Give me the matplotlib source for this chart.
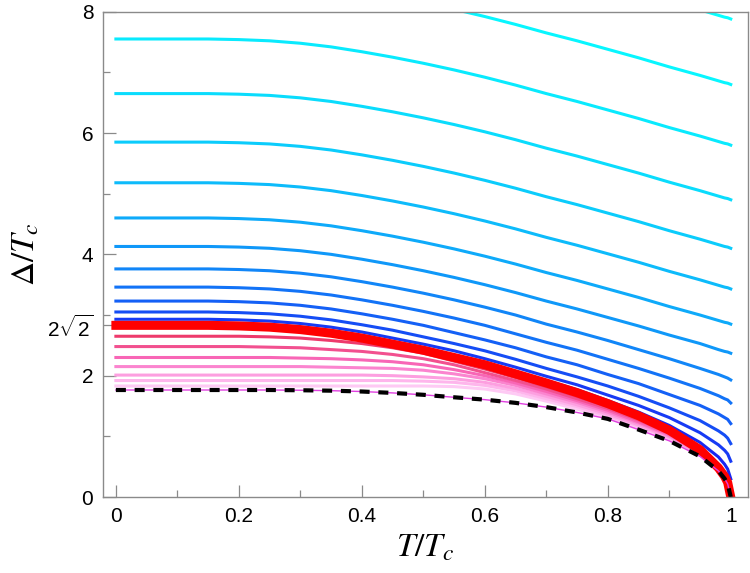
import matplotlib.pyplot as plt
import numpy as np
from matplotlib.colors import hsv_to_rgb

plt.rcParams['font.family'] = ['Liberation Sans', 'DejaVu Sans']
plt.rcParams['mathtext.fontset'] = 'custom'
plt.rcParams['mathtext.rm'] = 'Liberation Sans'
plt.rcParams['mathtext.it'] = 'Liberation Sans:italic'

# temperature grid (T/Tc) shared by all curves
T = [0, 0.05, 0.1, 0.15, 0.2, 0.25, 0.3, 0.35, 0.4, 0.45, 0.5, 0.55,
     0.6, 0.65, 0.7, 0.75, 0.8, 0.85, 0.9, 0.95, 0.98, 0.99, 0.995, 1.0]

# curves above 2*sqrt(2), top to bottom (gap stays finite at Tc)
blue_curves = [
    [9.63, 9.63, 9.63, 9.63, 9.62, 9.60, 9.56, 9.50, 9.42, 9.33, 9.23, 9.12, 9.00, 8.87, 8.73, 8.60, 8.46, 8.32, 8.17, 8.03, 7.94, 7.91, 7.90, 7.88],
    [8.55, 8.55, 8.55, 8.55, 8.54, 8.52, 8.48, 8.42, 8.34, 8.25, 8.15, 8.04, 7.92, 7.79, 7.65, 7.52, 7.38, 7.24, 7.09, 6.95, 6.86, 6.83, 6.82, 6.80],
    [7.55, 7.55, 7.55, 7.55, 7.54, 7.52, 7.48, 7.42, 7.34, 7.25, 7.15, 7.04, 6.92, 6.79, 6.65, 6.52, 6.38, 6.24, 6.09, 5.95, 5.86, 5.83, 5.82, 5.80],
    [6.65, 6.65, 6.65, 6.65, 6.64, 6.62, 6.58, 6.52, 6.44, 6.35, 6.25, 6.14, 6.02, 5.89, 5.75, 5.62, 5.48, 5.34, 5.19, 5.05, 4.96, 4.93, 4.92, 4.90],
    [5.85, 5.85, 5.85, 5.85, 5.84, 5.82, 5.78, 5.72, 5.64, 5.55, 5.45, 5.34, 5.22, 5.09, 4.95, 4.82, 4.68, 4.54, 4.39, 4.25, 4.16, 4.13, 4.12, 4.10],
    [5.18, 5.18, 5.18, 5.18, 5.17, 5.15, 5.11, 5.05, 4.97, 4.88, 4.78, 4.67, 4.55, 4.42, 4.28, 4.15, 4.01, 3.87, 3.72, 3.58, 3.49, 3.46, 3.45, 3.43],
    [4.60, 4.60, 4.60, 4.60, 4.59, 4.57, 4.53, 4.47, 4.39, 4.30, 4.20, 4.09, 3.97, 3.84, 3.70, 3.57, 3.43, 3.29, 3.14, 3.00, 2.91, 2.88, 2.87, 2.85],
    [4.13, 4.13, 4.13, 4.13, 4.12, 4.10, 4.06, 4.00, 3.92, 3.83, 3.73, 3.62, 3.50, 3.37, 3.23, 3.10, 2.96, 2.82, 2.67, 2.53, 2.43, 2.40, 2.39, 2.37],
    [3.76, 3.76, 3.76, 3.76, 3.75, 3.73, 3.69, 3.63, 3.55, 3.46, 3.36, 3.25, 3.13, 3.00, 2.85, 2.72, 2.58, 2.43, 2.28, 2.12, 2.02, 1.98, 1.96, 1.93],
    [3.46, 3.46, 3.46, 3.46, 3.45, 3.43, 3.39, 3.33, 3.25, 3.16, 3.06, 2.95, 2.83, 2.69, 2.55, 2.42, 2.27, 2.12, 1.96, 1.79, 1.67, 1.62, 1.60, 1.55],
    [3.23, 3.23, 3.23, 3.23, 3.22, 3.20, 3.16, 3.10, 3.02, 2.93, 2.83, 2.71, 2.59, 2.46, 2.31, 2.18, 2.02, 1.87, 1.69, 1.51, 1.37, 1.31, 1.28, 1.21],
    [3.05, 3.05, 3.05, 3.05, 3.04, 3.02, 2.98, 2.92, 2.84, 2.75, 2.64, 2.53, 2.41, 2.27, 2.12, 1.98, 1.83, 1.66, 1.47, 1.26, 1.09, 1.02, 0.97, 0.88],
    [2.93, 2.93, 2.93, 2.93, 2.92, 2.90, 2.86, 2.80, 2.72, 2.62, 2.52, 2.41, 2.28, 2.14, 1.99, 1.85, 1.68, 1.51, 1.31, 1.06, 0.86, 0.77, 0.71, 0.59],
    [2.87, 2.87, 2.87, 2.87, 2.86, 2.84, 2.80, 2.74, 2.66, 2.56, 2.46, 2.34, 2.22, 2.07, 1.92, 1.77, 1.59, 1.40, 1.18, 0.90, 0.66, 0.54, 0.46, 0.30],
]

# critical curve, Delta(0)/Tc = 2*sqrt(2)
red_curve = [2.83, 2.83, 2.83, 2.83, 2.82, 2.80, 2.76, 2.70, 2.62, 2.52, 2.42, 2.30,
             2.18, 2.03, 1.88, 1.72, 1.54, 1.34, 1.10, 0.78, 0.48, 0.34, 0.24, 0.0]

# curves below 2*sqrt(2), top to bottom
pink_curves = [
    [2.65, 2.65, 2.65, 2.65, 2.65, 2.64, 2.62, 2.58, 2.53, 2.46, 2.37, 2.24, 2.11, 1.97, 1.82, 1.66, 1.49, 1.30, 1.07, 0.76, 0.47, 0.33, 0.235, 0.0],
    [2.48, 2.48, 2.48, 2.48, 2.48, 2.47, 2.46, 2.43, 2.40, 2.35, 2.28, 2.18, 2.05, 1.92, 1.78, 1.62, 1.46, 1.27, 1.05, 0.75, 0.47, 0.33, 0.23, 0.0],
    [2.30, 2.30, 2.30, 2.30, 2.30, 2.30, 2.29, 2.28, 2.26, 2.23, 2.18, 2.10, 2.00, 1.88, 1.74, 1.59, 1.43, 1.24, 1.03, 0.74, 0.46, 0.33, 0.23, 0.0],
    [2.15, 2.15, 2.15, 2.15, 2.15, 2.15, 2.15, 2.14, 2.13, 2.12, 2.09, 2.03, 1.95, 1.84, 1.70, 1.56, 1.40, 1.22, 1.01, 0.72, 0.46, 0.32, 0.225, 0.0],
    [2.01, 2.01, 2.01, 2.01, 2.01, 2.01, 2.01, 2.01, 2.01, 2.00, 1.98, 1.95, 1.89, 1.79, 1.66, 1.52, 1.37, 1.19, 0.99, 0.71, 0.45, 0.32, 0.225, 0.0],
    [1.92, 1.92, 1.92, 1.92, 1.92, 1.92, 1.92, 1.92, 1.92, 1.92, 1.91, 1.89, 1.84, 1.75, 1.62, 1.49, 1.34, 1.17, 0.97, 0.70, 0.45, 0.31, 0.22, 0.0],
    [1.83, 1.83, 1.83, 1.83, 1.83, 1.83, 1.83, 1.83, 1.83, 1.83, 1.83, 1.82, 1.78, 1.70, 1.58, 1.45, 1.31, 1.14, 0.95, 0.69, 0.44, 0.31, 0.22, 0.0],
]

# BCS gap, Delta(0)/Tc = 1.764
bcs_curve = [1.764, 1.764, 1.764, 1.764, 1.764, 1.764, 1.760, 1.753, 1.739, 1.716, 1.685, 1.644,
             1.605, 1.552, 1.482, 1.394, 1.288, 1.111, 0.926, 0.670, 0.429, 0.303, 0.215, 0.0]

pink_colors = ['#ee3a6c', '#f2508f', '#f866b6', '#fb84cf', '#fd9fe0', '#feb6ec', '#fecaf4']

fig = plt.figure(figsize=(7.5, 5.73), dpi=100)
ax = fig.add_axes([0.1373, 0.1326, 0.86, 0.847])

nb = len(blue_curves)
for i, d in enumerate(blue_curves):
    f = (i / (nb - 1)) ** 1.3
    c = hsv_to_rgb((0.5 + 0.155 * f, 0.97 - 0.07 * f, 1.0 - 0.05 * f))
    ax.plot(T, d, color=c, lw=2.2, solid_joinstyle='round')

for d, c in zip(pink_curves[::-1], pink_colors[::-1]):
    ax.plot(T, d, color=c, lw=2.2, solid_joinstyle='round')

ax.plot(T, red_curve, color='#ff0000', lw=6.5, solid_joinstyle='round')
ax.plot(T, bcs_curve, color='#e040e0', lw=1.0)
ax.plot(T, bcs_curve, color='black', lw=3, ls=(0, (2.4, 2.1)))

ax.set_xlim(-0.021, 1.028)
ax.set_ylim(0, 8)

ax.set_xticks([0, 0.2, 0.4, 0.6, 0.8, 1.0])
ax.set_xticklabels(['0', '0.2', '0.4', '0.6', '0.8', '1'])
ax.set_xticks([0.1, 0.3, 0.5, 0.7, 0.9], minor=True)
ax.set_yticks([0, 2, 2 * np.sqrt(2), 4, 6, 8])
ax.set_yticklabels(['0', '2', r'$2\sqrt{2}$', '4', '6', '8'])
ax.set_yticks([1, 3, 5, 7], minor=True)

ax.tick_params(which='both', direction='in', top=False, right=False,
               color='#8a8a8a', width=0.9, labelsize=15)
ax.tick_params(which='major', length=9, pad=7)
ax.tick_params(which='minor', length=5)
for s in ax.spines.values():
    s.set_color('#8a8a8a')
    s.set_linewidth(1.0)

ax.set_xlabel(r'$T/T_c$', fontsize=24, math_fontfamily='stix', labelpad=5)
ax.set_ylabel(r'$\Delta/T_c$', fontsize=24, math_fontfamily='stix', labelpad=4)

fig.savefig('out.png', dpi=100)
